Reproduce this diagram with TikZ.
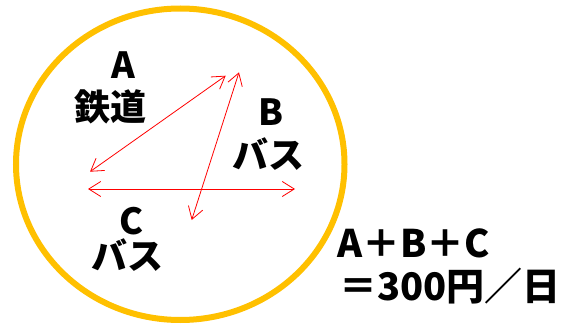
\documentclass[tikz,border=0pt]{standalone}
\usepackage{fontspec}
\setmainfont{Noto Sans CJK JP}
\usetikzlibrary{arrows.meta}
\definecolor{gold}{HTML}{FFC000}
\definecolor{arrred}{HTML}{FF0000}
\begin{document}
\begin{tikzpicture}[x=1pt,y=-1pt,
  lbl/.style={font=\fontsize{36}{40}\selectfont\bfseries, inner sep=0pt, anchor=center},
  big/.style={font=\fontsize{38}{42}\selectfont\bfseries, inner sep=0pt, anchor=west},
  dbl/.style={draw=arrred, line width=0.8pt, {Straight Barb[length=12pt,width=15pt]}-{Straight Barb[length=12pt,width=15pt]}}]
\useasboundingbox (0,0) rectangle (573,334);
\draw[gold, line width=6pt] (180.25,164.25) ellipse [x radius=164.25, y radius=155.75];
\node[lbl] (a) at (123.5,65) {A};
\node[lbl] (at) at (110,107) {鉄道};
\node[lbl] (b) at (271.5,112) {B};
\node[lbl] (bt) at (268,154) {バス};
\node[lbl] (c) at (132,221.5) {C};
\node[lbl] (ct) at (127,255) {バス};
\node[big] (sum) at (337,243.5) {A＋B＋C};
\node[big] (eq) at (339,286) {＝300円／日};
\coordinate (p1) at (90,171.7);
\coordinate (p2) at (225.7,75.7);
\coordinate (q1) at (239,72.3);
\coordinate (q2) at (191.7,220);
\coordinate (r1) at (88,189);
\coordinate (r2) at (295,189);
\draw[dbl] (p1) -- (p2);
\draw[dbl] (q1) -- (q2);
\draw[dbl] (r1) -- (r2);
\end{tikzpicture}
\end{document}
